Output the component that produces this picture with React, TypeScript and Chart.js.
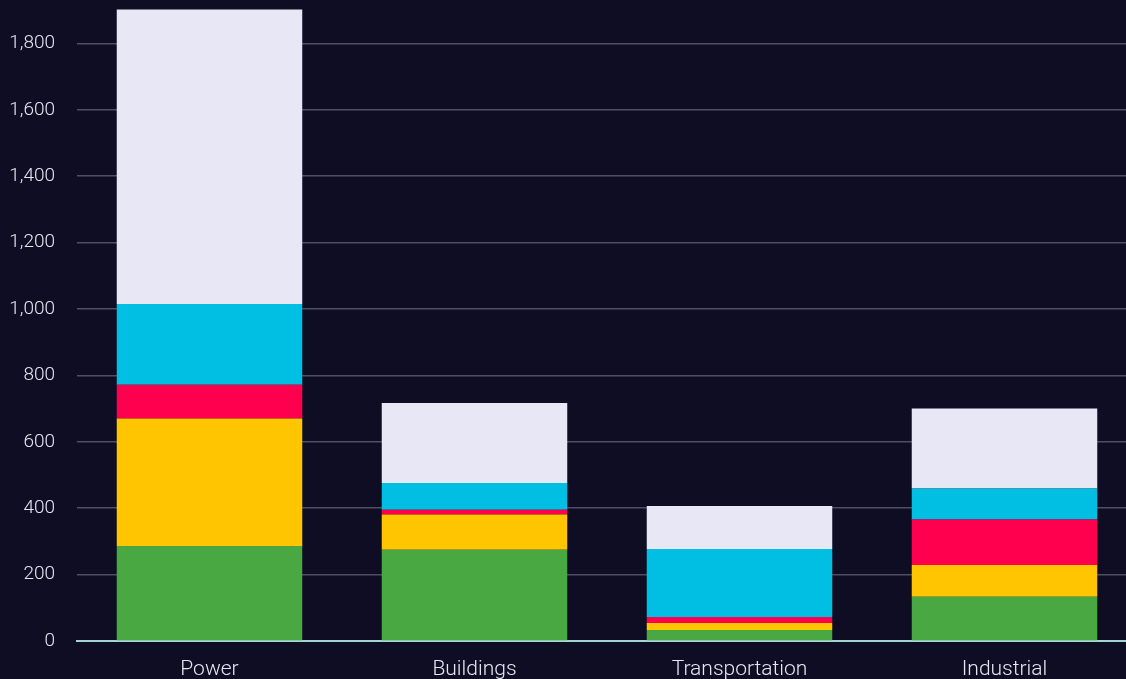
import React, { useEffect, useRef } from "react";
import { Chart, registerables } from "chart.js";

Chart.register(...registerables);

const categories = ["Power", "Buildings", "Transportation", "Industrial"];
const seriesNames = ["Segment 1", "Segment 2", "Segment 3", "Segment 4", "Segment 5"];
const segment1 = [286, 275, 33, 133];
const segment2 = [384, 106, 21, 96];
const segment3 = [102, 14, 18, 137];
const segment4 = [243, 81, 205, 93];
const segment5 = [887, 241, 130, 241];
const seriesColors = ["#4aa843", "#ffc600", "#ff004f", "#00bfe3", "#e8e7f5"];
const yMax = 2000;
const yStep = 200;

const BG = "#0e0d24";

export default function App() {
  const ref = useRef<HTMLCanvasElement | null>(null);

  useEffect(() => {
    if (!ref.current) return;
    document.body.style.margin = "0";
    document.body.style.background = BG;
    const values = [segment1, segment2, segment3, segment4, segment5];
    const chart = new Chart(ref.current, {
      type: "bar",
      data: {
        labels: categories,
        datasets: values.map((v, i) => ({
          label: seriesNames[i],
          data: v,
          backgroundColor: seriesColors[i],
          borderWidth: 0,
          barPercentage: 0.7,
          categoryPercentage: 1,
        })),
      },
      options: {
        animation: false,
        responsive: false,
        maintainAspectRatio: false,
        layout: { padding: { top: 40, right: 10, left: 0, bottom: 0 } },
        plugins: { legend: { display: false }, tooltip: { enabled: false } },
        scales: {
          x: {
            stacked: true,
            grid: { display: false, drawTicks: false },
            border: { display: true, color: "#a3d6d2", width: 2 },
            ticks: {
              color: "#e6e6f2",
              padding: 16,
              font: { family: "Roboto", size: 21, weight: 300 },
            },
            afterFit: (scale: any) => {
              scale.height = 60;
            },
          },
          y: {
            stacked: true,
            min: 0,
            max: yMax,
            grid: { color: "#4f4e64", lineWidth: 1.5, drawTicks: false },
            border: { display: false },
            ticks: {
              stepSize: yStep,
              color: "#e6e6f2",
              padding: 22,
              font: { family: "Roboto", size: 19, weight: 300 },
            },
            afterFit: (scale: any) => {
              scale.width = 77;
            },
          },
        },
      },
    });
    return () => chart.destroy();
  }, []);

  return (
    <div
      style={{
        position: "fixed",
        left: 0,
        top: 0,
        width: 1126,
        height: 679,
        overflow: "hidden",
        background: BG,
      }}
    >
      <canvas
        ref={ref}
        width={1147}
        height={764}
        style={{ position: "absolute", left: 0, top: -63, width: 1147, height: 764 }}
      />
    </div>
  );
}
